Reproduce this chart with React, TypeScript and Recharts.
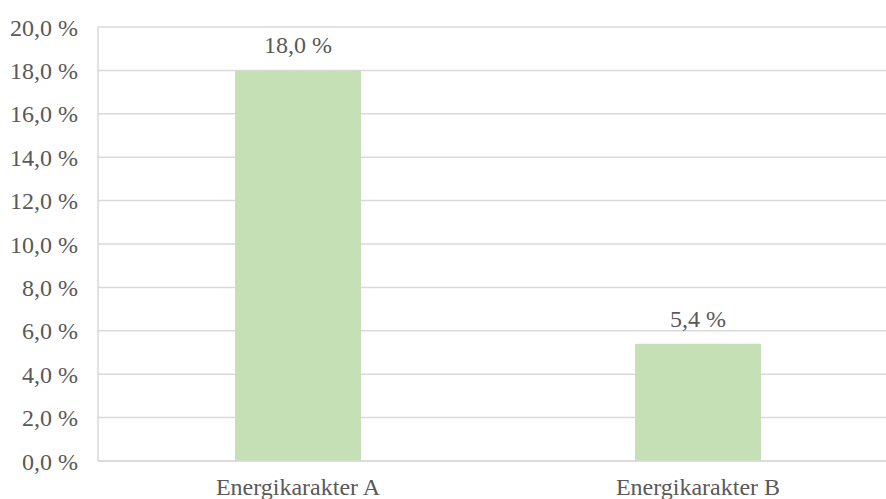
import { BarChart, Bar, XAxis, YAxis, CartesianGrid, LabelList } from 'recharts'

const categories = ['Energikarakter A', 'Energikarakter B']
const shares = [18.0, 5.4]
const yTicks = [0, 2, 4, 6, 8, 10, 12, 14, 16, 18, 20]

const FONT = 'Liberation Serif'
const FONT_SIZE = 24
const TEXT = '#595959'
const GRID = '#d9d9d9'

// Norwegian style percent: "18,0 %"
const pct = (v: number) => `${v.toFixed(1).replace('.', ',')} %`

const data = categories.map((name, i) => ({ name, value: shares[i] }))

function ValueLabel(props: any) {
  const { x, y, width, value } = props
  return (
    <text
      x={x + width / 2}
      y={y - 17}
      textAnchor="middle"
      style={{ fontFamily: FONT, fontSize: FONT_SIZE }}
      fill={TEXT}
    >
      {pct(value)}
    </text>
  )
}

export default function App() {
  return (
    <div style={{ position: 'absolute', left: 0, top: 0, width: 886, height: 499, overflow: 'hidden', background: '#fff', fontFamily: FONT }}>
      <style>{'body{margin:0;overflow:hidden} .recharts-text{font-family:"Liberation Serif",serif}'}</style>
      <BarChart
        width={900}
        height={520}
        data={data}
        margin={{ top: 27, right: 2, bottom: 0, left: 0 }}
        barCategoryGap="34.25%"
        style={{ fontFamily: FONT }}
      >
        <CartesianGrid horizontal vertical={false} stroke={GRID} strokeWidth={1.5} />
        <XAxis
          dataKey="name"
          height={59}
          axisLine={{ stroke: GRID, strokeWidth: 1.5 }}
          tickLine={false}
          tickSize={0}
          tickMargin={17}
          tick={{ fontSize: FONT_SIZE, fill: TEXT }}
        />
        <YAxis
          width={98}
          domain={[0, 20]}
          ticks={yTicks}
          interval={0}
          tickFormatter={pct}
          axisLine={{ stroke: GRID, strokeWidth: 1.5 }}
          tickLine={false}
          tickSize={0}
          tickMargin={20}
          tick={{ fontSize: FONT_SIZE, fill: TEXT }}
        />
        <Bar dataKey="value" fill="#C5E0B4" isAnimationActive={false}>
          <LabelList dataKey="value" content={ValueLabel} />
        </Bar>
      </BarChart>
    </div>
  )
}
